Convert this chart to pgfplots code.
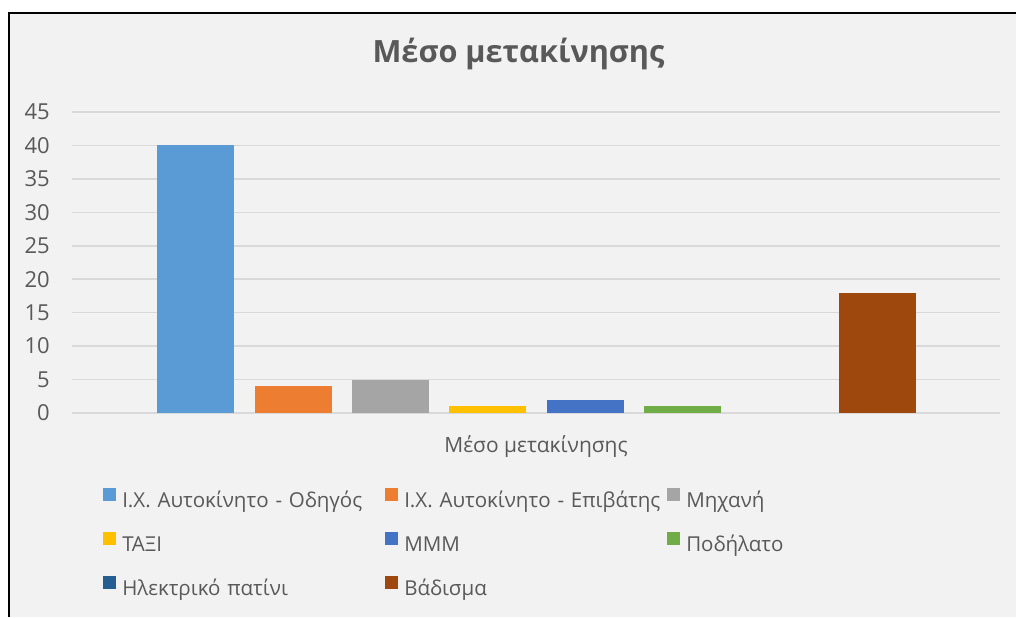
\documentclass[border=0pt]{standalone}
\usepackage{pgfplots}
\pgfplotsset{compat=1.18}
\usepackage{fontspec}
\setmainfont{Open Sans}
\frenchspacing
\definecolor{bg}{HTML}{F2F2F2}
\definecolor{txt}{HTML}{595959}
\definecolor{gridc}{HTML}{D9D9D9}
\definecolor{c1}{HTML}{5B9BD5}
\definecolor{c2}{HTML}{ED7D31}
\definecolor{c3}{HTML}{A5A5A5}
\definecolor{c4}{HTML}{FFC000}
\definecolor{c5}{HTML}{4472C4}
\definecolor{c6}{HTML}{70AD47}
\definecolor{c7}{HTML}{255E91}
\definecolor{c8}{HTML}{9E480E}
\begin{document}
\begin{tikzpicture}[x=0.75pt,y=0.75pt]
\useasboundingbox (0,0) rectangle (1016,617);
\fill[white] (0,0) rectangle (1016,617);
\fill[bg] (9,0) rectangle (1016,604);
\draw[line width=1.5pt,black] (9,0) -- (9,604) -- (1016,604);
\node[font=\fontsize{23}{27}\selectfont\bfseries, text=txt, anchor=base, inner sep=0pt] at (518.5,554) {Μέσο μετακίνησης};
\begin{axis}[
  at={(54pt,153pt)}, anchor=south west,
  width=696pt, height=225.75pt, scale only axis,
  xmin=-1.27, xmax=8.26, ymin=0, ymax=45,
  ytick={0,5,...,45}, xtick=\empty,
  ymajorgrids, grid style={gridc, line width=1.1pt},
  axis line style={draw=none}, tick style={draw=none},
  ybar, bar width=0.79, bar shift=0pt,
  /pgf/number format/assume math mode=true,
  yticklabel style={font=\fontsize{16.5}{19}\selectfont, text=txt, inner sep=0pt, anchor=east, xshift=-16.5pt},
  xlabel={Μέσο μετακίνησης},
  xlabel style={font=\fontsize{15.7}{18}\selectfont, text=txt, inner sep=0pt, at={(axis description cs:0.5,0)}, anchor=base, yshift=-29.25pt},
  legend columns=3,
  legend image code/.code={\fill[#1] (0pt,0.6pt) rectangle (9.75pt,10.35pt);},
  legend style={draw=none, fill=none, at={(axis description cs:0.0334,-0.248)}, anchor=north west,
    inner sep=0pt, row sep=14.7pt,
    font=\fontsize{15.4}{18}\selectfont, text=txt,
    nodes={inner sep=0pt, text width=197.25pt, align=left, text height=12pt, text depth=4pt},
    /tikz/every odd column/.style={column sep=4.5pt},
    /tikz/every even column/.style={column sep=0pt}},
]
\addplot[fill=c1, draw=none] coordinates {(0,40)};
\addlegendentry{Ι.Χ. Αυτοκίνητο - Οδηγός}
\addplot[fill=c2, draw=none] coordinates {(1,4)};
\addlegendentry{Ι.Χ. Αυτοκίνητο - Επιβάτης}
\addplot[fill=c3, draw=none] coordinates {(2,5)};
\addlegendentry{Μηχανή}
\addplot[fill=c4, draw=none] coordinates {(3,1)};
\addlegendentry{ΤΑΞΙ}
\addplot[fill=c5, draw=none] coordinates {(4,2)};
\addlegendentry{ΜΜΜ}
\addplot[fill=c6, draw=none] coordinates {(5,1)};
\addlegendentry{Ποδήλατο}
\addplot[fill=c7, draw=none, bar width=0pt] coordinates {(6,0)};
\addlegendentry{Ηλεκτρικό πατίνι}
\addplot[fill=c8, draw=none] coordinates {(7,18)};
\addlegendentry{Βάδισμα}
\end{axis}
\end{tikzpicture}
\end{document}
